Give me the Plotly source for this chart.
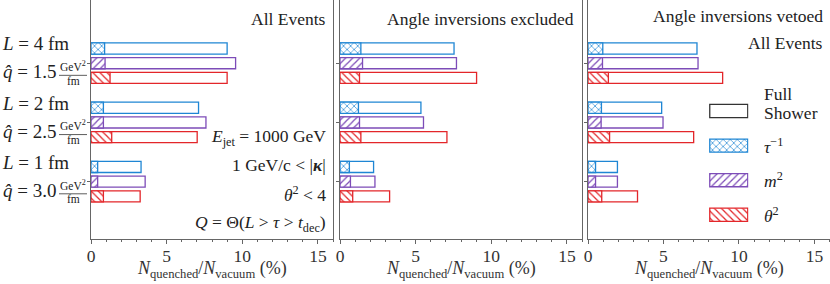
import plotly.graph_objects as go

# ---------------- data ----------------
groups = ["L=4 fm", "L=2 fm", "L=1 fm"]
q_hat = ["1.5", "2.5", "3.0"]
L_vals = ["4", "2", "1"]
obs_keys = ["tau", "m2", "theta2"]
obs_labels = ["<i>τ</i><sup>−1</sup>", "<i>m</i><sup>2</sup>", "<i>θ</i><sup>2</sup>"]
legend_labels = ["Full Shower", "tau", "m2", "theta2"]

# Panel 1: All events
p1_full_tau = [9.00, 7.11, 3.31]
p1_full_m2 = [9.56, 7.60, 3.58]
p1_full_th = [9.00, 7.02, 3.25]
p1_q_tau = [0.90, 0.82, 0.44]
p1_q_m2 = [0.93, 0.82, 0.44]
p1_q_th = [1.26, 1.37, 0.82]

# Panel 2: angle inversions excluded
p2_full_tau = [7.54, 5.35, 2.22]
p2_full_m2 = [7.70, 5.52, 2.31]
p2_full_th = [9.03, 7.07, 3.28]
p2_q_tau = [1.38, 1.22, 0.62]
p2_q_m2 = [1.49, 1.29, 0.69]
p2_q_th = [1.29, 1.38, 0.84]

# Panel 3: angle inversions vetoed
p3_full_tau = [7.22, 4.88, 1.95]
p3_full_m2 = [7.29, 4.97, 1.95]
p3_full_th = [8.92, 7.00, 3.28]
p3_q_tau = [0.98, 0.89, 0.50]
p3_q_m2 = [0.96, 0.87, 0.50]
p3_q_th = [1.35, 1.43, 0.91]

xticks = [0, 5, 10, 15]

panels = [
    {"full": [p1_full_tau, p1_full_m2, p1_full_th], "q": [p1_q_tau, p1_q_m2, p1_q_th]},
    {"full": [p2_full_tau, p2_full_m2, p2_full_th], "q": [p2_q_tau, p2_q_m2, p2_q_th]},
    {"full": [p3_full_tau, p3_full_m2, p3_full_th], "q": [p3_q_tau, p3_q_m2, p3_q_th]},
]

# ---------------- style ----------------
colors = ["#1f86d4", "#7d4cb8", "#e3262a"]
shapes_pat = ["x", "/", "\\"]
FONT = "Liberation Serif"
W, H = 830, 284
ML, MR, MT, MB = 0, 0, 0, 45
PW, PH = W - ML - MR, H - MT - MB
AX = "#666666"

domains = [(91, 333), (340, 582), (588, 829.5)]

fig = go.Figure()

for i, pan in enumerate(panels):
    xa = "x" if i == 0 else f"x{i+1}"
    ya = "y" if i == 0 else f"y{i+1}"
    for k in range(3):
        fig.add_trace(go.Bar(
            y=groups, x=pan["full"][k], orientation="h", xaxis=xa, yaxis=ya,
            offsetgroup=f"{obs_keys[k]}", alignmentgroup=f"p{i}", showlegend=False,
            marker=dict(color="white", line=dict(color=colors[k], width=1.3)),
            hoverinfo="skip"))
        fig.add_trace(go.Bar(
            y=groups, x=pan["q"][k], orientation="h", xaxis=xa, yaxis=ya,
            offsetgroup=f"{obs_keys[k]}", alignmentgroup=f"p{i}", showlegend=False,
            marker=dict(color="white", line=dict(color=colors[k], width=1.3),
                        pattern=dict(shape=shapes_pat[k], fgcolor=colors[k], bgcolor="white",
                                     size=5, solidity=0.25, fillmode="replace")),
            hoverinfo="skip"))

# legend keys drawn on a hidden axis (one key per row)
leg_full_color = ["#333333"] + colors
leg_pat = [""] + shapes_pat
for j, lab in enumerate(legend_labels):
    mk = dict(color="white", line=dict(color=leg_full_color[j], width=1.3))
    if leg_pat[j]:
        mk["pattern"] = dict(shape=leg_pat[j], fgcolor=colors[j - 1], bgcolor="white",
                             size=5, solidity=0.25, fillmode="replace")
    fig.add_trace(go.Bar(y=[j], x=[1], orientation="h", xaxis="x4", yaxis="y4",
                         width=0.38, marker=mk, showlegend=False, name=lab,
                         hoverinfo="skip"))

layout = dict(
    width=W, height=H, margin=dict(l=ML, r=MR, t=MT, b=MB, autoexpand=False),
    paper_bgcolor="white", plot_bgcolor="rgba(0,0,0,0)",
    barmode="group", bargap=0.255, bargroupgap=0.245,
    font=dict(family=FONT, size=15, color="#222222"),
)

yrange = [2.968, -1.067]
for i in range(3):
    sx = "" if i == 0 else str(i + 1)
    d0, d1 = domains[i]
    layout[f"xaxis{sx}"] = dict(
        domain=[d0 / PW, d1 / PW], range=[0, 16], anchor=f"y{sx}",
        tickvals=xticks, ticks="outside", ticklen=4, tickcolor=AX,
        minor=dict(dtick=1, ticks="outside", ticklen=2, tickcolor=AX, showgrid=False),
        showgrid=False, zeroline=False, showline=True, mirror=True,
        linecolor=AX, linewidth=1, tickfont=dict(size=17.5, family=FONT, color="#333"),
        ticklabelstandoff=-3, automargin=False,
    )
    layout[f"yaxis{sx}"] = dict(
        domain=[0, 1], anchor=f"x{sx}", type="category",
        categoryorder="array", categoryarray=groups,
        range=yrange, showticklabels=False, ticks="outside", ticklen=3, tickcolor=AX,
        showgrid=False, zeroline=False, showline=True, mirror=True,
        linecolor=AX, linewidth=1, automargin=False,
    )

def py(px):  # pixel -> paper y
    return (PH - (px - MT)) / PH

layout["xaxis4"] = dict(domain=[709 / PW, 748.5 / PW], range=[-0.02, 1.02], anchor="y4",
                        visible=False, fixedrange=True)
layout["yaxis4"] = dict(domain=[py(225), py(97)], anchor="x4", type="linear",
                        range=[3.295, -0.405], visible=False)

fig.update_layout(**layout)

ann = []
def txt(x, y, s, size=15, xanchor="right", yref="paper", xref="paper", color="#222"):
    ann.append(dict(x=x, y=y, xref=xref, yref=yref, text=s, showarrow=False,
                    xanchor=xanchor, yanchor="middle",
                    font=dict(family=FONT, size=size, color=color)))

# x-axis titles
xtitle = "<i>N</i><sub>quenched</sub>/<i>N</i><sub>vacuum</sub> (%)"
for d0, d1 in domains:
    txt((d0 + d1) / 2 / PW, py(269), xtitle, 18, xanchor="center", color="#333")

# panel titles / info
txt(328 / PW, py(19), "All Events", 17.5)
txt(576 / PW, py(19), "Angle inversions excluded", 17.5)
txt(825 / PW, py(16), "Angle inversions vetoed", 17.5)
txt(825 / PW, py(43), "All Events", 17.5)
txt(328 / PW, py(137), "<i>E</i><sub>jet</sub> = 1000 GeV", 17.5)
txt(328 / PW, py(165), "1 GeV/c &lt; |<b><i>κ</i></b>|", 17.5)
txt(328 / PW, py(193.5), "<i>θ</i><sup>2</sup> &lt; 4", 17.5)
txt(328 / PW, py(223), "<i>Q</i> = Θ(<i>L</i> &gt; <i>τ</i> &gt; <i>t</i><sub>dec</sub>)", 17.5)

# left group labels
shapes = []
for g in range(3):
    txt(0 / PW, g - 0.325, f"<i>L</i> = {L_vals[g]} fm", 19, xanchor="left", yref="y")
    txt(1 / PW, g + 0.147, f"<i>q̂</i> = {q_hat[g]}", 19, xanchor="left", yref="y")
    txt(73 / PW, g + 0.05, "GeV<sup>2</sup>", 11.5, xanchor="center", yref="y")
    txt(73 / PW, g + 0.30, "fm", 11.5, xanchor="center", yref="y")
    shapes.append(dict(type="line", xref="paper", yref="y", x0=59 / PW, x1=87 / PW,
                       y0=g + 0.205, y1=g + 0.205, line=dict(color="#333", width=0.8)))

# legend texts
txt(762 / PW, py(93.5), "Full", 17.5, xanchor="left")
txt(762 / PW, py(112.5), "Shower", 17.5, xanchor="left")
for j in range(3):
    txt(762 / PW, j + 1, obs_labels[j], 17.5, xanchor="left", yref="y4")

fig.update_layout(annotations=ann, shapes=shapes)
fig.write_html("out.html", config={"displayModeBar": False, "staticPlot": True},
               post_script="document.body.style.margin='0';")
